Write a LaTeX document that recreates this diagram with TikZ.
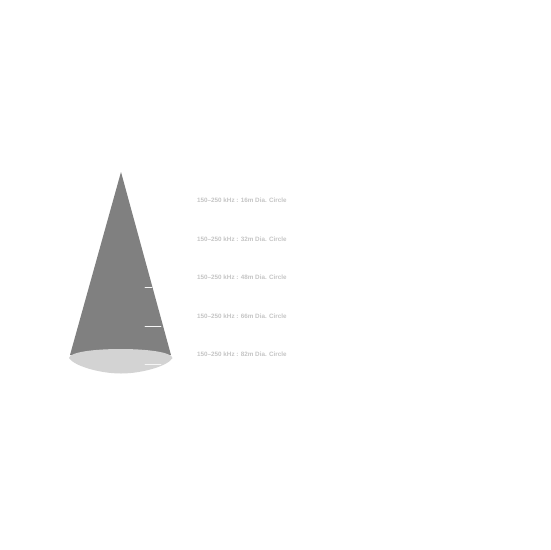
\documentclass[tikz,border=0pt]{standalone}
\usepackage{fontspec}
\setmainfont{Liberation Sans}
\definecolor{conegray}{HTML}{808080}
\definecolor{basegray}{HTML}{D3D3D3}
\definecolor{labelgray}{HTML}{C4C4C4}
\tikzset{
  rangelabel/.style={anchor=west, inner sep=0pt, text=labelgray, font=\fontsize{6.3}{7}\selectfont\bfseries},
  ticktrace/.style={draw=white!92!gray, line width=0.8pt}
}
\begin{document}
\begin{tikzpicture}[x=1pt, y=-1pt, line join=round, line cap=round]
	\useasboundingbox (0,0) rectangle (550,550);
	% 1. Các điểm của hình nón
	\coordinate (apex) at (121,172);
	\coordinate (baseL) at (70,355);
	\coordinate (baseR) at (171,355);
	
	% 2. Thân nón
	\fill[conegray] (apex) -- (baseR) -- (baseL) -- cycle;
	
	% 3. Mặt đáy
	\fill[basegray] (69,358) .. controls (70,346) and (171,346) .. (172.5,358)
		.. controls (168,366) and (142,373.5) .. (121,373.5)
		.. controls (100,373.5) and (74,366) .. cycle;
	
	% 4. Vạch chia
	\draw[ticktrace] (145,287.5) -- (152,287.5);
	\draw[ticktrace] (145,326) -- (161,326);
	\draw[ticktrace] (145,364.5) -- (161,364.5);
	
	% 5. Nhãn vùng phủ
	\node[rangelabel] (r16) at (197,200.5) {150--250 kHz : 16m Dia. Circle};
	\node[rangelabel] (r32) at (197,239) {150--250 kHz : 32m Dia. Circle};
	\node[rangelabel] (r48) at (197,277.5) {150--250 kHz : 48m Dia. Circle};
	\node[rangelabel] (r66) at (197,316) {150--250 kHz : 66m Dia. Circle};
	\node[rangelabel] (r82) at (197,354.5) {150--250 kHz : 82m Dia. Circle};
\end{tikzpicture}
\end{document}
